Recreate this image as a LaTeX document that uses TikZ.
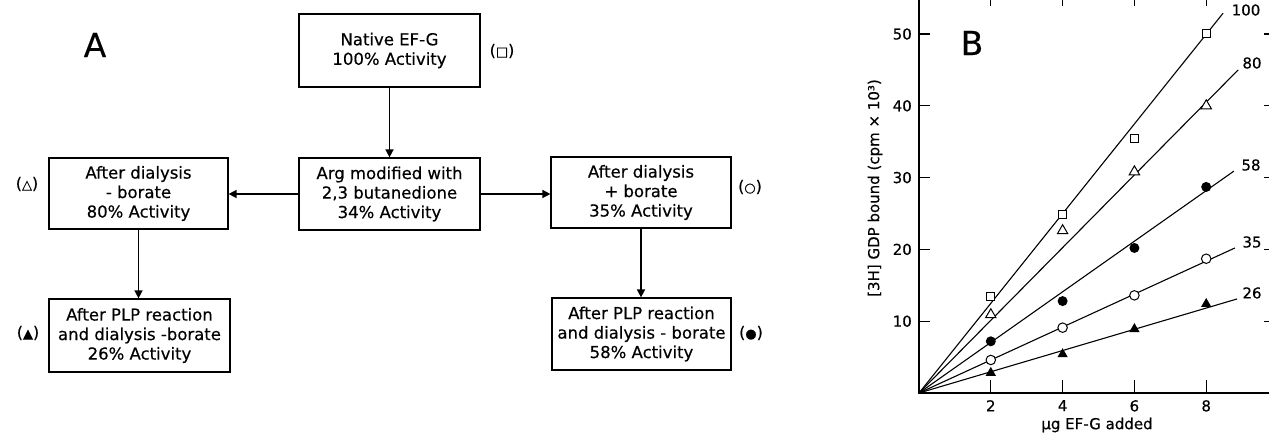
\documentclass[tikz,border=0pt]{standalone}
\usepackage{fontspec}
\setmainfont{DejaVu Sans}[FakeBold=0.4]
\usetikzlibrary{arrows.meta,shapes.geometric}
\begin{document}
\begin{tikzpicture}[x=1pt,y=-1pt,
  box/.style={draw,line width=1.2pt,inner sep=0pt,align=center,font=\fontsize{16.5}{19.5}\selectfont},
  flow/.style={-{Triangle[length=8pt,width=8pt]},line width=1.5pt},
  tag/.style={inner sep=0pt,font=\fontsize{16}{18}\selectfont},
  big/.style={inner sep=0pt,font=\fontsize{33}{36}\selectfont},
  num/.style={inner sep=0pt,font=\fontsize{15}{17}\selectfont},
  axis/.style={line width=1.6pt},
  tick/.style={line width=1.3pt},
  fit line/.style={line width=1.1pt},
  msq/.style={draw,fill=white,line width=1pt,rectangle,minimum size=8pt,inner sep=0pt},
  mci/.style={draw,fill=white,line width=1pt,circle,minimum size=9.5pt,inner sep=0pt},
  mfc/.style={fill=black,circle,minimum size=10pt,inner sep=0pt},
  mtr/.style={draw,fill=white,line width=1pt,regular polygon,regular polygon sides=3,minimum size=12pt,inner sep=0pt},
  mft/.style={fill=black,regular polygon,regular polygon sides=3,minimum size=12pt,inner sep=0pt}]
\useasboundingbox (0,0) rectangle (1269,435);

% ---------- Panel A ----------
\node[big] (labA) at (95,45) {A};
\node[box,minimum width=181pt,minimum height=73pt] (native) at (389.5,50.5) {Native EF-G\\100\% Activity};
\node[box,minimum width=181pt,minimum height=72pt] (arg) at (389.5,194) {Arg modified with\\2,3 butanedione\\34\% Activity};
\node[box,minimum width=179pt,minimum height=71pt] (minus) at (138.5,193.5) {After dialysis\\- borate\\80\% Activity};
\node[box,minimum width=180pt,minimum height=71pt] (plus) at (641,192.5) {After dialysis\\+ borate\\35\% Activity};
\node[box,minimum width=181pt,minimum height=73pt] (plpl) at (139.5,335.5) {After PLP reaction\\and dialysis -borate\\26\% Activity};
\node[box,minimum width=179pt,minimum height=72pt] (plpr) at (641.5,334) {After PLP reaction\\and dialysis - borate\\58\% Activity};

\node[tag] (tsq) at (502,51) {({\fontsize{13}{14}\selectfont □})};
\node[tag] (ttr) at (27,184) {({\fontsize{13}{14}\selectfont △})};
\node[tag] (tci) at (750,187) {({\fontsize{13}{14}\selectfont ○})};
\node[tag] (tft) at (28,333) {({\fontsize{13}{14}\selectfont ▲})};
\node[tag] (tfc) at (751,333) {({\fontsize{13}{14}\selectfont ●})};

\draw[flow] (native.south) -- (native.south |- arg.north);
\draw[flow] (arg.west) -- (arg.west -| minus.east);
\draw[flow] (arg.east) -- (arg.east -| plus.west);
\draw[flow] (minus.south) -- (minus.south |- plpl.north);
\draw[flow] (plus.south) -- (plus.south |- plpr.north);

% ---------- Panel B ----------
\node[big] (labB) at (972,43) {B};
\node[num] (l100) at (1246,10) {100};
\node[num] (l80) at (1252,63) {80};
\node[num] (l58) at (1251,165) {58};
\node[num] (l35) at (1252,242) {35};
\node[num] (l26) at (1252,293) {26};
\node[num,rotate=90] (ytitle) at (875,188) {[3H] GDP bound (cpm × 10³)};
\node[num] (xtitle) at (1097,425) {µg EF-G added};

\begin{scope}[shift={(919pt,-393pt)},x=35.9pt,y=7.18pt]
  \coordinate (O) at (0,0);
  \coordinate (ytop) at (0,55);
  \coordinate (xend) at (9.9,0);
  \draw[axis] (ytop) -- (O) -- (xend);
  \foreach \v in {10,20,30,40,50} {
    \draw[tick] (0,\v) -- (0.3,\v);
    \draw[tick] (9.6,\v) -- (9.9,\v);
    \node[num,anchor=east,xshift=-7pt] (yl\v) at (0,\v) {\v};
  }
  \foreach \u in {2,4,6,8} {
    \draw[tick] (\u,0) -- (\u,1.8);
    \draw[tick] (\u,55) -- (\u,53.9);
    \node[num,anchor=north,yshift=-7pt] (xl\u) at (\u,0) {\u};
  }
  \coordinate (e100) at (8.47,52.9);
  \coordinate (e80) at (8.89,45.0);
  \coordinate (e58) at (8.77,30.9);
  \coordinate (e35) at (8.80,20.2);
  \coordinate (e26) at (8.86,13.1);
  \foreach \e in {e100,e80,e58,e35,e26} \draw[fit line] (O) -- (\e);
  \foreach \x/\y [count=\i] in {2/13.4,4/24.9,6/35.5,8/50.1} \node[msq] (sq\i) at (\x,\y) {};
  \foreach \x/\y [count=\i] in {2/10.9,4/22.6,6/30.8,8/40.0} \node[mtr] (tr\i) at (\x,\y) {};
  \foreach \x/\y [count=\i] in {2/7.2,4/12.8,6/20.2,8/28.7} \node[mfc] (fc\i) at (\x,\y) {};
  \foreach \x/\y [count=\i] in {2/4.6,4/9.1,6/13.6,8/18.7} \node[mci] (ci\i) at (\x,\y) {};
  \foreach \x/\y [count=\i] in {2/2.8,4/5.4,6/8.9,8/12.4} \node[mft] (ft\i) at (\x,\y) {};
\end{scope}
\end{tikzpicture}
\end{document}
